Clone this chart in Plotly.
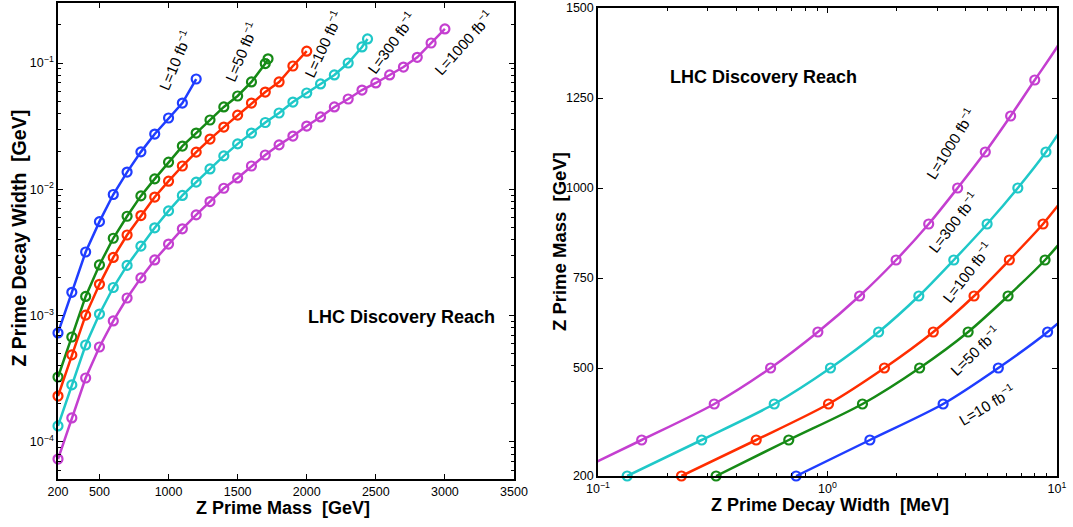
import plotly.graph_objects as go

# ---------------- data ----------------
mass_L10 = [200, 300, 400, 500, 600, 700, 800, 900, 1000, 1100, 1200]
width_L10 = [7.3e-4, 1.53e-3, 3.19e-3, 5.55e-3, 9.1e-3, 1.37e-2, 1.98e-2, 2.74e-2,
             3.67e-2, 4.82e-2, 7.47e-2]

mass_L50 = [200, 300, 400, 500, 600, 700, 800, 900, 1000, 1100, 1200, 1300, 1400,
            1500, 1600, 1700, 1720]
width_L50 = [3.27e-4, 6.78e-4, 1.42e-3, 2.52e-3, 4.1e-3, 6.12e-3, 8.87e-3, 1.21e-2,
             1.64e-2, 2.20e-2, 2.79e-2, 3.54e-2, 4.49e-2, 5.48e-2, 7.08e-2, 9.9e-2,
             1.08e-1]

mass_L100 = [200, 300, 400, 500, 600, 700, 800, 900, 1000, 1100, 1200, 1300, 1400,
             1500, 1600, 1700, 1800, 1900, 2000]
width_L100 = [2.31e-4, 4.89e-4, 1.01e-3, 1.77e-3, 2.89e-3, 4.35e-3, 6.2e-3, 8.69e-3,
              1.16e-2, 1.53e-2, 1.97e-2, 2.50e-2, 3.11e-2, 3.87e-2, 4.82e-2, 5.89e-2,
              7.08e-2, 9.47e-2, 1.24e-1]

mass_L300 = [200, 300, 400, 500, 600, 700, 800, 900, 1000, 1100, 1200, 1300, 1400,
             1500, 1600, 1700, 1800, 1900, 2000, 2100, 2200, 2300, 2400, 2440]
width_L300 = [1.34e-4, 2.83e-4, 5.86e-4, 1.03e-3, 1.67e-3, 2.50e-3, 3.55e-3, 4.96e-3,
              6.75e-3, 8.95e-3, 1.14e-2, 1.45e-2, 1.84e-2, 2.29e-2, 2.79e-2, 3.38e-2,
              4.02e-2, 4.91e-2, 5.79e-2, 6.83e-2, 8.04e-2, 1.00e-1, 1.34e-1, 1.55e-1]

mass_L1000 = [200, 300, 400, 500, 600, 700, 800, 900, 1000, 1100, 1200, 1300, 1400,
              1500, 1600, 1700, 1800, 1900, 2000, 2100, 2200, 2300, 2400, 2500, 2600,
              2700, 2800, 2900, 3000]
width_L1000 = [7.33e-5, 1.55e-4, 3.21e-4, 5.65e-4, 9.08e-4, 1.38e-3, 1.99e-3, 2.76e-3,
               3.69e-3, 4.87e-3, 6.28e-3, 8.0e-3, 1.02e-2, 1.23e-2, 1.53e-2, 1.87e-2,
               2.25e-2, 2.64e-2, 3.17e-2, 3.74e-2, 4.49e-2, 5.19e-2, 6.11e-2, 6.95e-2,
               8.04e-2, 9.29e-2, 1.11e-1, 1.44e-1, 1.86e-1]

series_names = ["L=10 fb<sup>−1</sup>", "L=50 fb<sup>−1</sup>", "L=100 fb<sup>−1</sup>",
                "L=300 fb<sup>−1</sup>", "L=1000 fb<sup>−1</sup>"]
series_mass = [mass_L10, mass_L50, mass_L100, mass_L300, mass_L1000]
series_width = [width_L10, width_L50, width_L100, width_L300, width_L1000]
colors = ["#1f3dff", "#168a16", "#ff2d00", "#1fc8c8", "#c43fd0"]

left_xticks = [200, 500, 1000, 1500, 2000, 2500, 3000, 3500]
left_yticks = [1e-4, 1e-3, 1e-2, 1e-1]
left_yticklabels = ["10<sup>−4</sup>", "10<sup>−3</sup>", "10<sup>−2</sup>", "10<sup>−1</sup>"]
right_xticks = [0.1, 1, 10]
right_xticklabels = ["10<sup>−1</sup>", "10<sup>0</sup>", "10<sup>1</sup>"]
right_yticks = [200, 500, 750, 1000, 1250, 1500]

FONT = "Liberation Sans, Arial, Helvetica, sans-serif"
W, H = 1073, 527


def px(x):
    return x / W


def py(y):
    return 1 - y / H


fig = go.Figure()

# left panel: width vs mass
for name, m, w, c in zip(series_names, series_mass, series_width, colors):
    fig.add_trace(go.Scatter(
        x=m, y=w, mode="lines+markers", name=name, xaxis="x", yaxis="y",
        line=dict(color=c, width=2.5),
        marker=dict(symbol="circle-open", size=9, color=c, line=dict(width=2.2, color=c)),
        cliponaxis=False, showlegend=False))

# right panel: mass vs width (MeV)
xr_lo, xr_hi = 0.1, 10.0
for name, m, w, c in zip(series_names, series_mass, series_width, colors):
    w_mev = [v * 1000 for v in w]
    fig.add_trace(go.Scatter(
        x=w_mev, y=m, mode="lines", xaxis="x2", yaxis="y2",
        line=dict(color=c, width=2.5, shape="spline", smoothing=0.8),
        showlegend=False, hoverinfo="skip"))
    inside = [(a, b) for a, b in zip(w_mev, m) if xr_lo <= a <= xr_hi and 200 <= b <= 1500]
    fig.add_trace(go.Scatter(
        x=[a for a, _ in inside], y=[b for _, b in inside], mode="markers",
        xaxis="x2", yaxis="y2", name=name,
        marker=dict(symbol="circle-open", size=9, color=c, line=dict(width=2.2, color=c)),
        cliponaxis=False, showlegend=False))

left_minor_y = [k * 10.0 ** e for e in range(-5, 0) for k in range(2, 10)]
left_minor_y = [v for v in left_minor_y if 5e-5 <= v <= 0.3]
right_minor_x = [k * 10.0 ** e for e in range(-1, 1) for k in range(2, 10)]

axis_common = dict(showline=True, linecolor="black", linewidth=1.5, mirror="ticks",
                   ticks="inside", ticklen=5, tickwidth=1, tickcolor="black",
                   showgrid=False, zeroline=False,
                   tickfont=dict(family=FONT, size=12.5, color="black"))

fig.update_layout(
    width=W, height=H,
    margin=dict(l=0, r=0, t=0, b=0),
    paper_bgcolor="white", plot_bgcolor="white",
    font=dict(family=FONT, color="black"),
    xaxis=dict(domain=[px(58), px(514)], range=[200, 3500], tickvals=left_xticks,
               anchor="y", automargin=False, **axis_common),
    yaxis=dict(domain=[py(479), py(3)], type="log", range=[-4.293, -0.525],
               tickvals=left_yticks, ticktext=left_yticklabels, anchor="x",
               automargin=False,
               minor=dict(tickvals=left_minor_y, ticks="inside", ticklen=3,
                          tickcolor="black", showgrid=False),
               **axis_common),
    xaxis2=dict(domain=[px(598), px(1057)], type="log", range=[-1, 1],
                tickvals=right_xticks, ticktext=right_xticklabels, anchor="y2",
                automargin=False,
                minor=dict(tickvals=right_minor_x, ticks="inside", ticklen=3,
                           tickcolor="black", showgrid=False),
                **axis_common),
    yaxis2=dict(domain=[py(476), py(8)], range=[200, 1500], tickvals=right_yticks,
                anchor="x2", automargin=False, **axis_common),
)

ann = []


def add_text(x, y, text, size, angle=0):
    ann.append(dict(x=px(x), y=py(y), xref="paper", yref="paper", text=text,
                    showarrow=False, textangle=angle, xanchor="center", yanchor="middle",
                    font=dict(family=FONT, size=size, color="black")))


NB = "\u00a0"
add_text(283, 508, "<b>Z Prime Mass" + NB + NB + "[GeV]</b>", 18)
add_text(18.5, 238, "<b>Z Prime Decay Width" + NB + NB + "[GeV]</b>", 19.5, angle=-90)
add_text(830, 505, "<b>Z Prime Decay Width" + NB + NB + "[MeV]</b>", 18)
add_text(559, 242, "<b>Z Prime Mass" + NB + NB + "[GeV]</b>", 18.5, angle=-90)
add_text(401, 317, "<b>LHC Discovery Reach</b>", 18)
add_text(763, 77, "<b>LHC Discovery Reach</b>", 18)

# curve labels, left panel
left_lab = [(174, 60, -67), (241, 52, -67), (322, 44, -65), (391, 43, -54), (463, 43, -48)]
for (x, y, a), t in zip(left_lab, series_names):
    add_text(x, y, t, 15, angle=a)
# curve labels, right panel
right_lab = [(986, 404, -31), (974, 350, -44), (966, 272, -52), (952, 222, -52), (950, 144, -58)]
for (x, y, a), t in zip(right_lab, series_names):
    add_text(x, y, t, 15, angle=a)

fig.update_layout(annotations=ann)
fig.write_html("out.html")
